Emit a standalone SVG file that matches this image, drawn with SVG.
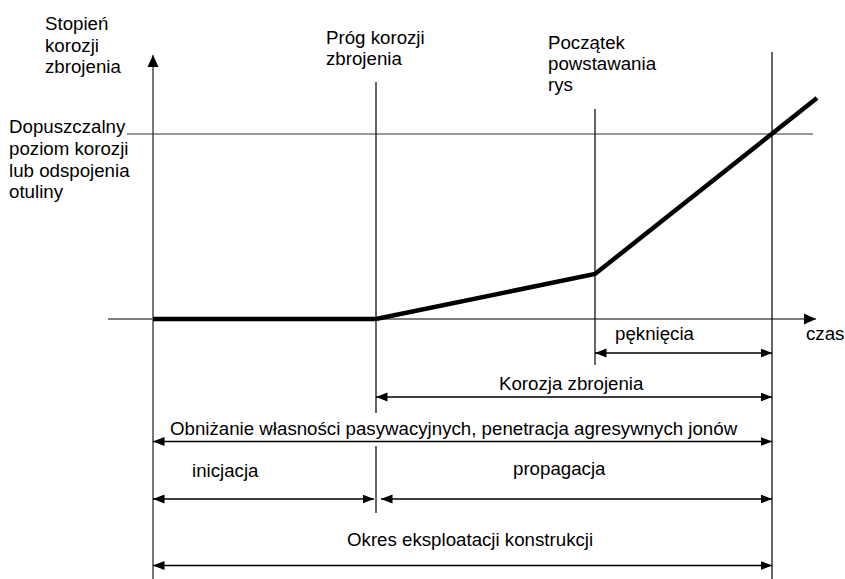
<svg xmlns="http://www.w3.org/2000/svg" width="845" height="579" viewBox="0 0 845 579">
<style>
text{font-family:"Liberation Sans",Arial,sans-serif;font-size:18.7px;fill:#000}
.ax{stroke:#555;stroke-width:1.6;fill:none}
.v{stroke:#000;stroke-width:1.2;fill:none}
.thr{stroke:#333;stroke-width:1.1;fill:none}
.dim{stroke:#000;stroke-width:1.5;fill:none}
.curve{stroke:#000;stroke-width:4.5;fill:none;stroke-linejoin:miter}
</style>
<defs>
<marker id="ah" markerUnits="userSpaceOnUse" markerWidth="12" markerHeight="10" viewBox="0 0 12 10" refX="11.5" refY="5" orient="auto-start-reverse">
<path d="M0,0.5 L11.5,5 L0,9.5 z" fill="#000"/>
</marker>
<marker id="axh" markerUnits="userSpaceOnUse" markerWidth="13" markerHeight="12" viewBox="0 0 13 12" refX="12" refY="6" orient="auto">
<path d="M0,0.5 L12,6 L0,11.5 z" fill="#000"/>
</marker>
</defs>
<g id="connectors">
<line class="ax" x1="153" y1="579" x2="153" y2="55" marker-end="url(#axh)"/>
<line class="ax" x1="108" y1="319" x2="816" y2="319" marker-end="url(#axh)"/>
<line class="thr" x1="127" y1="134" x2="813" y2="134"/>
<line class="v" x1="376" y1="82" x2="376" y2="413"/>
<line class="v" x1="376" y1="446" x2="376" y2="513"/>
<line class="v" x1="595" y1="109" x2="595" y2="365"/>
<line class="v" x1="772" y1="52" x2="772" y2="579"/>
<polyline class="curve" points="153,319 376,319 595,274 817,98"/>
<line class="dim" x1="595" y1="353" x2="772" y2="353" marker-start="url(#ah)" marker-end="url(#ah)"/>
<line class="dim" x1="376" y1="397" x2="772" y2="397" marker-start="url(#ah)" marker-end="url(#ah)"/>
<line class="dim" x1="153" y1="441.5" x2="772" y2="441.5" marker-start="url(#ah)" marker-end="url(#ah)"/>
<line class="dim" x1="153" y1="499" x2="374" y2="499" marker-start="url(#ah)" marker-end="url(#ah)"/>
<line class="dim" x1="381" y1="499" x2="772" y2="499" marker-start="url(#ah)" marker-end="url(#ah)"/>
<line class="dim" x1="153" y1="565.5" x2="772" y2="565.5" marker-start="url(#ah)" marker-end="url(#ah)"/>
</g>
<g id="label-y-axis"><text x="45" y="30">Stopień</text><text x="45" y="51.5">korozji</text><text x="45" y="73">zbrojenia</text></g>
<g id="label-threshold"><text x="9" y="133.3">Dopuszczalny</text><text x="9" y="155">poziom korozji</text><text x="9" y="176.6">lub odspojenia</text><text x="9" y="198">otuliny</text></g>
<g id="label-prog"><text x="326" y="43.5">Próg korozji</text><text x="326" y="65">zbrojenia</text></g>
<g id="label-poczatek"><text x="548" y="48.5">Początek</text><text x="548" y="69.5">powstawania</text><text x="548" y="90.5">rys</text></g>
<g id="label-czas"><text x="806" y="340">czas</text></g>
<g id="label-pekniecia"><text x="615" y="340">pęknięcia</text></g>
<g id="label-korozja"><text x="499" y="390">Korozja zbrojenia</text></g>
<g id="label-obnizanie"><text x="170" y="434.5">Obniżanie własności pasywacyjnych, penetracja agresywnych jonów</text></g>
<g id="label-inicjacja"><text x="192" y="476.5">inicjacja</text></g>
<g id="label-propagacja"><text x="513" y="475">propagacja</text></g>
<g id="label-okres"><text x="347" y="545.5">Okres eksploatacji konstrukcji</text></g>
</svg>
